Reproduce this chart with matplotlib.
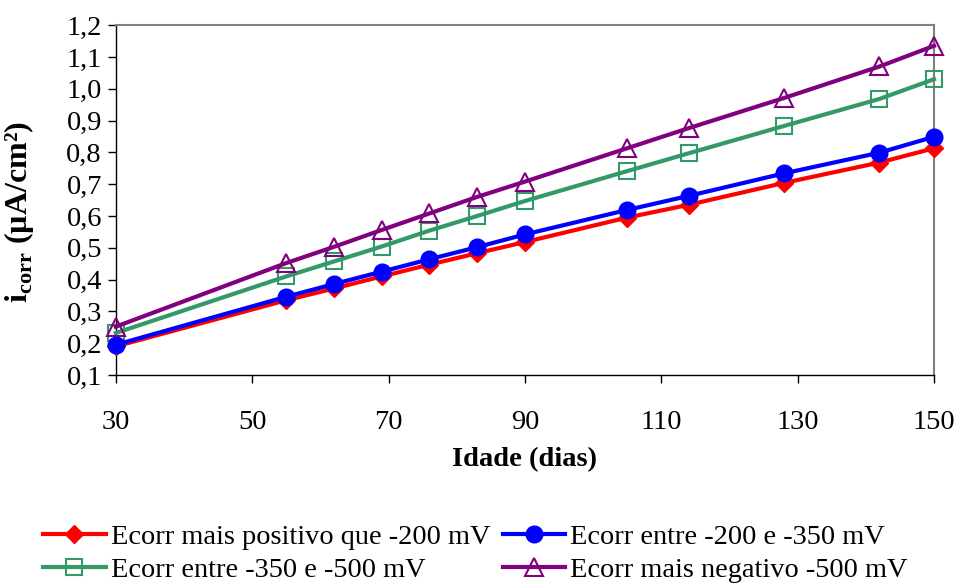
import numpy as np
import matplotlib.pyplot as plt
from matplotlib.ticker import FuncFormatter

plt.rcParams['font.family'] = ['Liberation Serif', 'DejaVu Serif']
plt.rcParams['mathtext.fontset'] = 'custom'
plt.rcParams['mathtext.rm'] = 'Liberation Serif'
plt.rcParams['mathtext.bf'] = 'Liberation Serif:bold'

idade = [30, 55, 62, 69, 76, 83, 90, 105, 114, 128, 142, 150]
icorr_pos200 = [0.19, 0.335, 0.372, 0.41, 0.447, 0.483, 0.518, 0.595, 0.635, 0.704, 0.768, 0.813]
icorr_200_350 = [0.195, 0.346, 0.386, 0.425, 0.464, 0.502, 0.542, 0.619, 0.663, 0.734, 0.799, 0.849]
icorr_350_500 = [0.232, 0.41, 0.457, 0.504, 0.554, 0.6, 0.647, 0.741, 0.797, 0.883, 0.968, 1.03]
icorr_neg500 = [0.252, 0.452, 0.503, 0.556, 0.608, 0.66, 0.708, 0.813, 0.876, 0.971, 1.07, 1.135]

labels = ['Ecorr mais positivo que -200 mV', 'Ecorr entre -200 e -350 mV',
          'Ecorr entre -350 e -500 mV', 'Ecorr mais negativo -500 mV']

fig = plt.figure(figsize=(9.57, 5.85), dpi=100)
ax = fig.add_axes([0.121, 0.359, 0.855, 0.598])

l1, = ax.plot(idade, icorr_pos200, color='#ff0000', lw=3, marker='D', ms=9,
              label=labels[0], zorder=3, clip_on=False)
l2, = ax.plot(idade, icorr_200_350, color='#0000ff', lw=3, marker='o', ms=12,
              label=labels[1], zorder=4, clip_on=False)
l3, = ax.plot(idade, icorr_350_500, color='#339966', lw=3, marker='s', ms=11,
              mfc='none', mew=1.5, label=labels[2], zorder=3, clip_on=False)
l4, = ax.plot(idade, icorr_neg500, color='#800080', lw=3, marker='^', ms=13,
              mfc='none', mew=1.5, label=labels[3], zorder=5, clip_on=False)

ax.set_xlim(30, 150)
ax.set_ylim(0.1, 1.2)
ax.set_xticks(np.arange(30, 151, 20))
ax.set_yticks(np.arange(0.1, 1.21, 0.1))
ax.yaxis.set_major_formatter(FuncFormatter(lambda v, p: f'{v:.1f}'.replace('.', ',')))
ax.tick_params(axis='both', labelsize=20.5, direction='out', length=6, width=1)
ax.tick_params(axis='x', pad=19)
ax.tick_params(axis='y', pad=4)

for s in ['top', 'right']:
    ax.spines[s].set_color('#808080')
    ax.spines[s].set_linewidth(1.5)
for s in ['left', 'bottom']:
    ax.spines[s].set_color('black')
    ax.spines[s].set_linewidth(1)

ax.set_xlabel('Idade (dias)', fontsize=20.5, fontweight='bold', labelpad=9)
ax.set_ylabel(r'$\mathbf{i}_{\mathbf{corr}}$ (µA/cm²)', fontsize=23, fontweight='bold')
ax.yaxis.set_label_coords(-0.097, 0.465)

# Excel-style legend: filled row by row
fig.legend([l1, l3, l2, l4], [labels[0], labels[2], labels[1], labels[3]],
           loc='lower center', bbox_to_anchor=(0.497, -0.04), ncol=2, frameon=False,
           fontsize=20.4, handlelength=2.2, columnspacing=0.45, handletextpad=0.18,
           labelspacing=0.25)

fig.savefig('out.png', dpi=100)
